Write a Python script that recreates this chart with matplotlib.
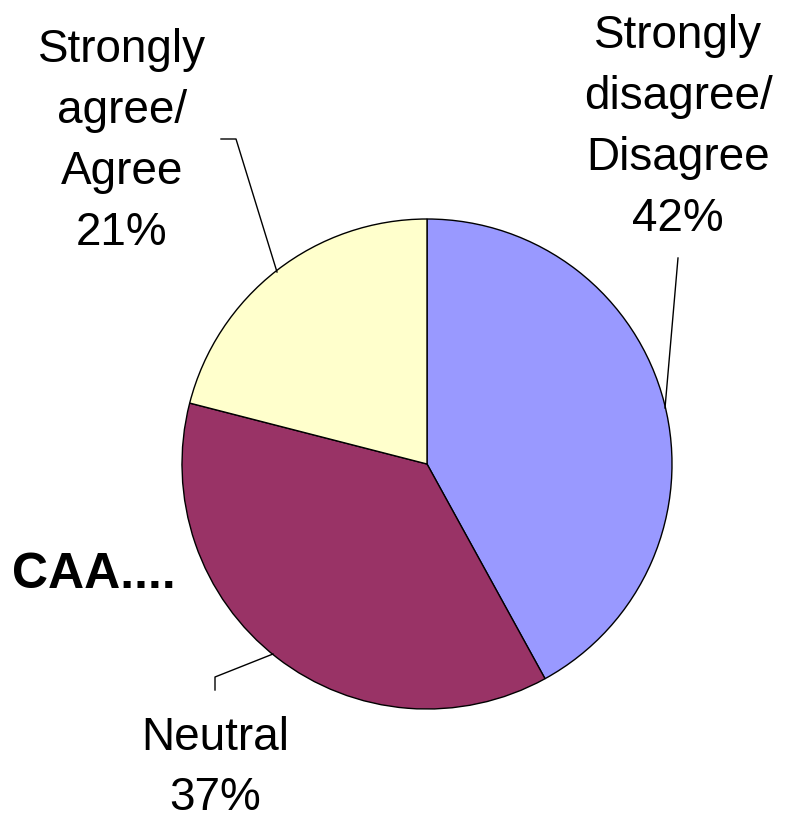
import matplotlib
matplotlib.use("Agg")
import matplotlib.pyplot as plt

categories = ["Strongly\ndisagree/\nDisagree", "Neutral", "Strongly\nagree/\nAgree"]
values = [42, 37, 21]
colors = ["#9999FF", "#993366", "#FFFFCC"]

W, H = 787, 821
fig = plt.figure(figsize=(W / 100, H / 100), dpi=100)
ax = fig.add_axes([0, 0, 1, 1])
ax.set_xlim(0, W)
ax.set_ylim(0, H)
ax.set_aspect("equal")
ax.axis("off")

cx, cy, r = 427, H - 464, 245
ax.pie(values, colors=colors, startangle=90, counterclock=False,
       center=(cx, cy), radius=r,
       wedgeprops=dict(edgecolor="black", linewidth=1.0))
ax.set_xlim(0, W)
ax.set_ylim(0, H)

font = dict(family=["Liberation Sans", "DejaVu Sans"], fontsize=33)

# slice labels with leader lines
label_pos = [(678, H - 127), (215, H - 768), (122, H - 141)]
leaders = [
    [(678, 258), (665, 408)],
    [(215, 690), (215, 677), (273, 654)],
    [(221, 139), (236, 139), (277, 272)],
]
for cat, v, (lx, ly), pts in zip(categories, values, label_pos, leaders):
    ax.text(lx, ly, f"{cat}\n{v}%", ha="center", va="center",
            linespacing=1.5, **font)
    xs = [p[0] for p in pts]
    ys = [H - p[1] for p in pts]
    ax.plot(xs, ys, color="black", linewidth=1.0)

ax.text(12, H - 575, "CAA....", ha="left", va="center", fontweight="bold",
        family=["Liberation Sans", "DejaVu Sans"], fontsize=36)

fig.savefig("out.png", dpi=100)
